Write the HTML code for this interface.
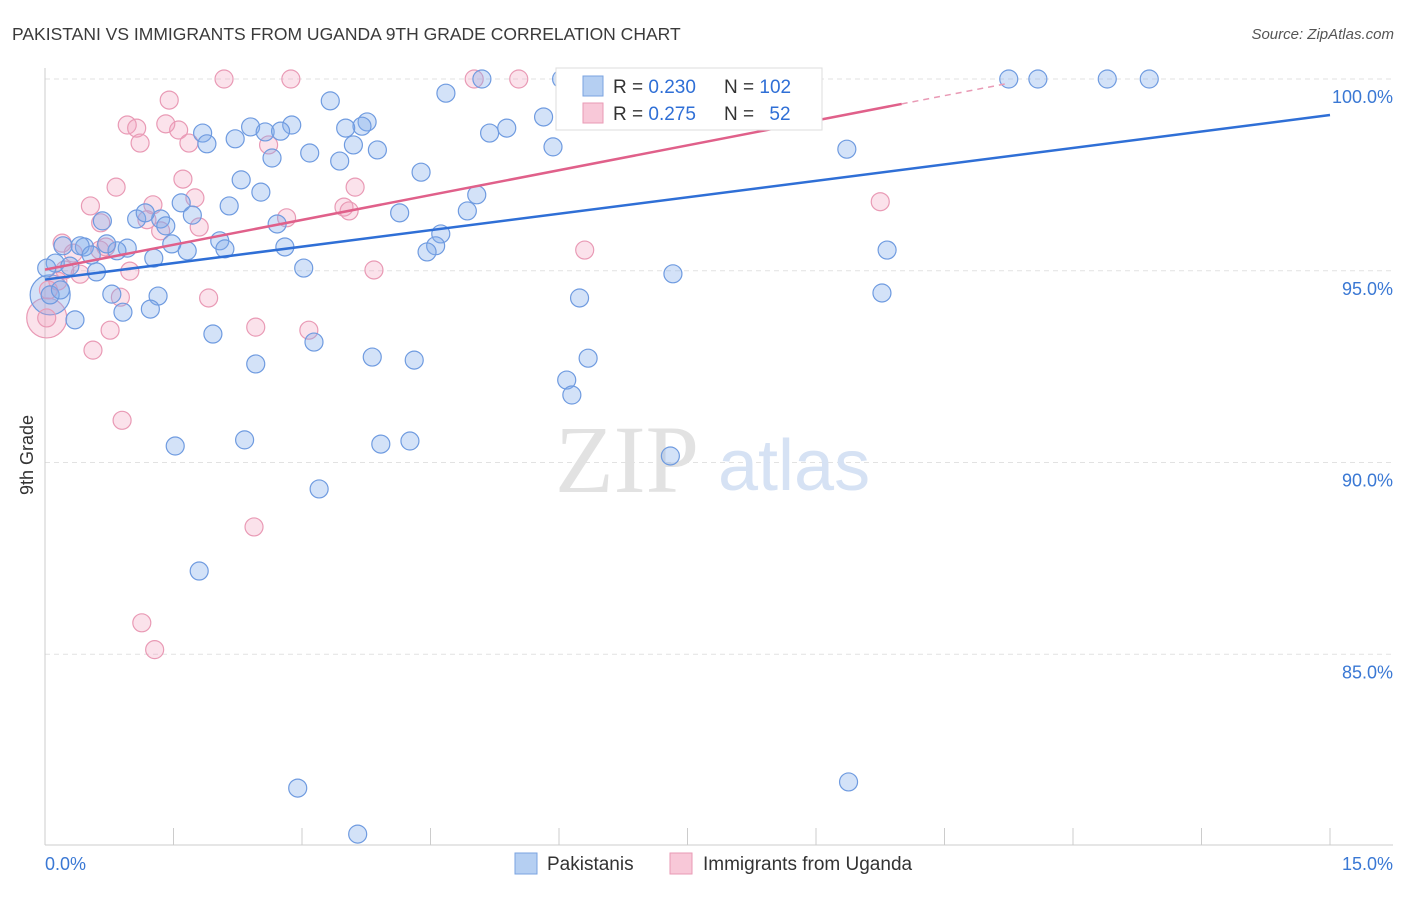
<!DOCTYPE html>
<html><head><meta charset="utf-8"><style>
body{margin:0;background:#fff;font-family:"Liberation Sans",sans-serif}
svg text{font-family:"Liberation Sans",sans-serif}
</style></head><body>
<svg id="c" width="1406" height="892">
<text x="12" y="40" font-size="17.5" fill="#3a3a3a">PAKISTANI VS IMMIGRANTS FROM UGANDA 9TH GRADE CORRELATION CHART</text>
<text x="1394" y="39" font-size="15" fill="#555" font-style="italic" text-anchor="end">Source: ZipAtlas.com</text>
<text transform="translate(33,455) rotate(-90)" font-size="18" fill="#333" text-anchor="middle">9th Grade</text>
<g id="grid"></g>
<g>
<text x="555" y="492" font-size="96" fill="#e2e2e2" font-family="Liberation Serif" style="font-family:'Liberation Serif',serif">ZIP</text>
<text x="718" y="490" font-size="72" fill="#d6e2f4">atlas</text>
</g>
<g id="axes"></g>
<g id="pts"></g>
<g id="lines"></g>
<g>
<rect x="556" y="68" width="266" height="62" fill="#fff" stroke="#ddd"/>
<rect x="583" y="76" width="20" height="20" fill="#b5cff2" stroke="#7aa3e0"/>
<rect x="583" y="103" width="20" height="20" fill="#f8c8d8" stroke="#e99ab5"/>
<text x="613" y="93" font-size="19" fill="#333">R = <tspan fill="#2f6fd6">0.230</tspan></text>
<text x="724" y="93" font-size="19" fill="#333">N = <tspan fill="#2f6fd6">102</tspan></text>
<text x="613" y="120" font-size="19" fill="#333">R = <tspan fill="#2f6fd6">0.275</tspan></text>
<text x="724" y="120" font-size="19" fill="#333">N = <tspan fill="#2f6fd6" dx="10">52</tspan></text>
</g>
<g>
<rect x="515" y="853" width="22" height="21" fill="#b5cff2" stroke="#7aa3e0"/>
<text x="547" y="870" font-size="19" fill="#333">Pakistanis</text>
<rect x="670" y="853" width="22" height="21" fill="#f8c8d8" stroke="#e99ab5"/>
<text x="703" y="870" font-size="19" fill="#333">Immigrants from Uganda</text>
</g>
</svg>
<script>
const blueX=[5.10,6.03,6.88,7.60,8.17,8.57,11.25,11.59,12.40,12.89,3.33,4.68,3.76,3.70,3.51,2.88,2.40,2.57,2.75,1.84,1.89,2.22,5.19,5.39,5.82,5.93,3.09,3.44,3.60,3.88,2.65,2.29,2.52,2.15,1.59,1.72,1.35,1.07,1.17,0.67,1.41,2.71,4.14,4.39,4.93,5.04,4.62,4.56,4.46,2.80,2.04,2.10,1.66,1.48,1.27,0.96,0.84,0.72,0.46,0.41,0.21,0.12,0.29,0.60,3.02,0.78,1.32,1.23,0.91,0.35,0.06,1.96,3.14,2.46,3.82,4.31,6.24,6.34,6.09,6.15,7.33,9.83,9.77,9.36,1.52,2.33,3.92,4.26,7.30,3.20,1.80,2.95,3.65,9.38,7.80,0.02,0.18,0.54];
const blueY=[100,100,100,100,100,100,100,100,100,100,99.43,99.63,98.88,98.77,98.72,98.80,98.75,98.62,98.64,98.59,98.31,98.44,98.59,98.72,99.01,98.23,98.07,97.86,98.28,98.15,97.94,97.37,97.05,96.69,96.77,96.45,96.35,96.35,96.51,96.30,96.17,96.22,96.51,97.57,96.56,96.98,95.96,95.65,95.49,95.62,95.78,95.57,95.52,95.70,95.33,95.59,95.52,95.70,95.62,95.65,95.65,95.20,95.12,94.97,95.07,94.39,94.34,94.00,93.92,93.72,94.37,93.35,93.14,92.57,92.75,92.67,94.29,92.72,92.15,91.76,94.92,95.54,94.42,98.17,90.43,90.59,90.48,90.56,90.17,89.31,87.17,81.51,80.31,81.67,99.45,95.07,94.50,95.41];
const pinkX=[2.09,2.87,5.01,5.53,1.45,0.96,1.07,1.11,1.56,1.68,1.41,1.61,1.75,1.26,1.19,1.35,1.80,0.83,0.53,0.65,2.61,2.82,3.62,3.49,3.55,6.30,9.75,3.84,0.99,0.41,0.20,0.33,0.64,0.71,0.23,0.15,0.88,1.91,2.46,3.08,0.76,0.56,0.90,2.44,1.13,1.28,7.59,0.04,0.02];
const pinkY=[100,100,100,100,99.45,98.80,98.72,98.33,98.67,98.33,98.83,97.39,96.90,96.72,96.33,96.04,96.14,97.18,96.69,96.25,98.28,96.38,97.18,96.66,96.56,95.54,96.80,95.02,94.99,94.91,95.72,95.46,95.54,95.62,95.02,94.73,94.31,94.29,93.53,93.45,93.45,92.93,91.10,88.32,85.82,85.12,100,94.50,93.77];
const bigBlueX=[0.06];const bigBlueY=[94.37];
const bigPinkX=[0.02];const bigPinkY=[93.77];
const blueLineY=[94.77,99.06];const blueLineX=[0,15];
const pinkLineY=[95.03,99.35];const pinkLineX=[0,10];const pinkDashEnd=11.25;
const yTicks=[100,95,90,85];const yTickLabels=["100.0%","95.0%","90.0%","85.0%"];
const NS="http://www.w3.org/2000/svg";
const sx=v=>45+v*(1330-45)/15;
const sy=v=>79+(100-v)*38.35;
function mk(tag,parent,attrs){const e=document.createElementNS(NS,tag);for(const k in attrs)e.setAttribute(k,attrs[k]);parent.appendChild(e);return e;}
const grid=document.getElementById('grid'),axes=document.getElementById('axes'),pts=document.getElementById('pts'),lines=document.getElementById('lines');
yTicks.forEach((t,i)=>{
 const l=mk('line',grid,{x1:45,x2:1393,y1:sy(t),y2:sy(t),stroke:'#e2e2e2','stroke-dasharray':'5,4'});
 
 
 const tx=mk('text',axes,{x:1393,y:sy(t)+24,'font-size':18,fill:'#3a78d4','text-anchor':'end'});
 tx.textContent=yTickLabels[i];
 
 
});
const la=mk('line',axes,{x1:45,x2:45,y1:68,y2:845,stroke:'#ccc'});


const lb=mk('line',axes,{x1:45,x2:1393,y1:845,y2:845,stroke:'#ccc'});


for(let i=0;i<=10;i++){const t=mk('line',axes,{x1:sx(i*1.5),x2:sx(i*1.5),y1:828,y2:845,stroke:'#ccc'});
 
 }
const x0=mk('text',axes,{x:45,y:870,'font-size':18,fill:'#3a78d4'});x0.textContent='0.0%';


const x1=mk('text',axes,{x:1393,y:870,'font-size':18,fill:'#3a78d4','text-anchor':'end'});x1.textContent='15.0%';


function dot(x,y,r,blue,name){const c=mk('circle',pts,{cx:sx(x),cy:sy(y),r:r,fill:blue?'rgba(130,172,235,0.35)':'rgba(242,160,188,0.3)',stroke:blue?'#6f9be0':'#e99ab5','stroke-width':1.2});
 
 }
bigPinkX.forEach((x,i)=>dot(x,bigPinkY[i],20,false,'uganda-point'));
bigBlueX.forEach((x,i)=>dot(x,bigBlueY[i],20,true,'pakistani-point'));
pinkX.forEach((x,i)=>dot(x,pinkY[i],9,false,'uganda-point'));
blueX.forEach((x,i)=>dot(x,blueY[i],9,true,'pakistani-point'));
const bl=mk('line',lines,{x1:sx(blueLineX[0]),y1:sy(blueLineY[0]),x2:sx(blueLineX[1]),y2:sy(blueLineY[1]),stroke:'#2f6fd6','stroke-width':2.5});


const pl=mk('line',lines,{x1:sx(pinkLineX[0]),y1:sy(pinkLineY[0]),x2:sx(pinkLineX[1]),y2:sy(pinkLineY[1]),stroke:'#e0608a','stroke-width':2.5});


const slope=(pinkLineY[1]-pinkLineY[0])/(pinkLineX[1]-pinkLineX[0]);
const pd=mk('line',lines,{x1:sx(pinkLineX[1]),y1:sy(pinkLineY[1]),x2:sx(pinkDashEnd),y2:sy(pinkLineY[0]+slope*pinkDashEnd),stroke:'#e99ab5','stroke-width':1.5,'stroke-dasharray':'6,5'});


</script>
</body></html>
